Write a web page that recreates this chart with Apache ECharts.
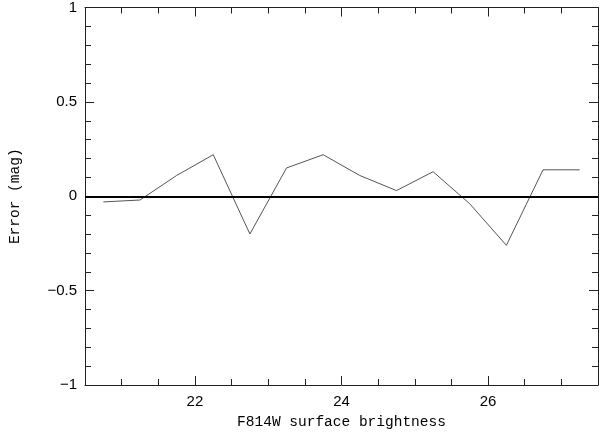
<!DOCTYPE html>
<html>
<head>
<meta charset="utf-8">
<script src="https://cdn.jsdelivr.net/npm/echarts@6/dist/echarts.min.js"></script>
<style>
  html, body { margin: 0; padding: 0; background: #fff; }
  #main { width: 600px; height: 435px; }
</style>
</head>
<body>
<div id="main"></div>
<script>
// surface brightness bins and the error in each
var brightness = [20.75, 21.25, 21.75, 22.25, 22.75, 23.25, 23.75, 24.25, 24.75, 25.25, 25.75, 26.25, 26.75, 27.25];
var errorMag = [-0.03, -0.02, 0.11, 0.22, -0.2, 0.15, 0.22, 0.11, 0.03, 0.13, -0.04, -0.26, 0.14, 0.14];

var xMin = 20.5, xMax = 27.5;
var xMajorTicks = [22, 24, 26];
var yMin = -1, yMax = 1;
var yMajorTicks = [-1, -0.5, 0, 0.5, 1];

var chartDom = document.getElementById('main');
var myChart = echarts.init(chartDom);
var option;

var lineCol = '#222';
var labelFont = { color: '#000', fontFamily: 'Liberation Sans', fontSize: 15 };
var nameFont = { color: '#000', fontFamily: 'Liberation Mono', fontSize: 14.5 };

function minus(v) {
  return String(v).replace('-', '\u2212');
}

// one axis with the long (major) ticks, one with the short ticks
function xAx(pos, main) {
  return {
    type: 'value', position: pos, min: xMin, max: xMax,
    interval: main ? undefined : 0.5,
    axisLine: { show: main, onZero: false, lineStyle: { color: lineCol, width: 1 } },
    axisTick: main
      ? { show: true, inside: true, length: 9, customValues: xMajorTicks, lineStyle: { color: lineCol } }
      : { show: true, inside: true, length: 6, lineStyle: { color: lineCol } },
    axisLabel: (main && pos === 'bottom')
      ? Object.assign({ show: true, margin: 9, customValues: xMajorTicks }, labelFont)
      : { show: false },
    splitLine: { show: false },
    name: (main && pos === 'bottom') ? 'F814W surface brightness' : '',
    nameLocation: 'middle',
    nameGap: 30,
    nameTextStyle: nameFont
  };
}

function yAx(pos, main) {
  return {
    type: 'value', position: pos, min: yMin, max: yMax,
    interval: main ? undefined : 0.1,
    axisLine: { show: main, onZero: false, lineStyle: { color: lineCol, width: 1 } },
    axisTick: main
      ? { show: true, inside: true, length: 9, customValues: yMajorTicks, lineStyle: { color: lineCol } }
      : { show: true, inside: true, length: 6, lineStyle: { color: lineCol } },
    axisLabel: (main && pos === 'left')
      ? Object.assign({ show: true, margin: 8, customValues: yMajorTicks, formatter: minus }, labelFont)
      : { show: false },
    splitLine: { show: false },
    name: (main && pos === 'left') ? 'Error (mag)' : '',
    nameLocation: 'middle',
    nameRotate: 90,
    nameGap: 62,
    nameTextStyle: nameFont
  };
}

option = {
  animation: false,
  backgroundColor: '#fff',
  grid: { left: 83, right: 2, top: 7, bottom: 50 },
  xAxis: [xAx('bottom', true), xAx('bottom', false), xAx('top', true), xAx('top', false)],
  yAxis: [yAx('left', true), yAx('left', false), yAx('right', true), yAx('right', false)],
  series: [
    {
      type: 'line',
      xAxisIndex: 0,
      yAxisIndex: 0,
      data: brightness.map(function (b, i) { return [b, errorMag[i]]; }),
      showSymbol: false,
      symbol: 'none',
      lineStyle: { color: '#555', width: 1 },
      markLine: {
        silent: true,
        symbol: ['none', 'none'],
        label: { show: false },
        lineStyle: { color: '#000', width: 2, type: 'solid' },
        data: [{ yAxis: 0 }]
      }
    }
  ]
};

option && myChart.setOption(option);
</script>
</body>
</html>
